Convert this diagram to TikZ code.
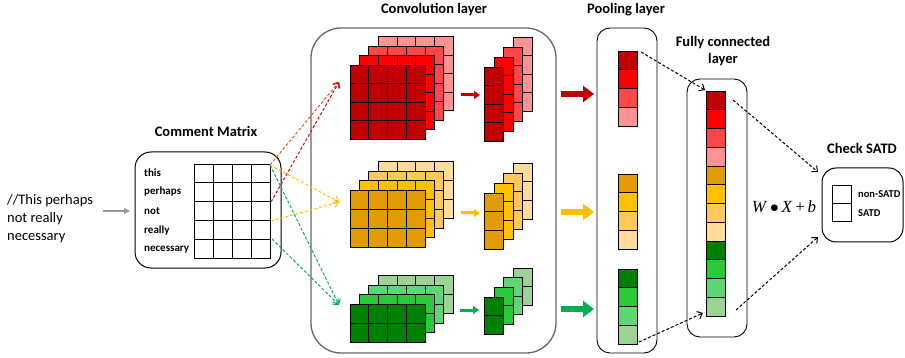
\documentclass[tikz,border=0pt]{standalone}
\usepackage{fontspec}
\setmainfont{Carlito}
\newfontfamily\tmsfont{Liberation Serif}
\usetikzlibrary{arrows.meta}
\definecolor{redA}{HTML}{C00000}
\definecolor{redB}{HTML}{FF0000}
\definecolor{redC}{HTML}{FF4747}
\definecolor{redD}{HTML}{FF9393}
\definecolor{orgA}{HTML}{E29A05}
\definecolor{orgB}{HTML}{FFC000}
\definecolor{orgC}{HTML}{FFC85C}
\definecolor{orgD}{HTML}{FFDC9C}
\definecolor{grnA}{HTML}{008000}
\definecolor{grnB}{HTML}{29C937}
\definecolor{grnC}{HTML}{5DD673}
\definecolor{grnD}{HTML}{9CD394}
\definecolor{arrGreen}{HTML}{00B050}
\definecolor{lineRed}{HTML}{E00000}
\definecolor{lineOrgRed}{HTML}{E0561E}
\newcommand{\cellgrid}[7]{%
  \foreach \ci in {1,...,#3}{\foreach \cj in {1,...,#4}{%
    \draw[cellline,fill=#7] ({#1+(\ci-1)*#5},{#2+(\cj-1)*#6}) rectangle ++(#5,#6);}}}
\begin{document}
\begin{tikzpicture}[x=1pt,y=-1pt,
  cellline/.style={draw=black,line width=0.8pt},
  layerbox/.style={draw=black,line width=0.9pt,rounded corners=13pt},
  title/.style={font=\bfseries\fontsize{14.5}{17}\selectfont,inner sep=0pt},
  word/.style={font=\bfseries\fontsize{11}{13}\selectfont,anchor=west,inner sep=0pt},
  dasharrow/.style={dash pattern=on 3pt off 2pt,line width=1pt,-{Straight Barb[length=4.5pt,width=8pt]}},
  smallarrow/.style={line width=3pt,-{Triangle[length=6pt,width=8pt]}},
  bigarrow/.style={line width=6.5pt,-{Triangle[length=11pt,width=16pt]}}]
\useasboundingbox (0,0) rectangle (905,358);

% ---------- left text ----------
\node[anchor=west,align=left,inner sep=0pt,font=\fontsize{14.5}{18}\selectfont] (src) at (7,219)
  {//This perhaps\\not really\\necessary};
\coordinate (srcA) at (103,211);
\coordinate (srcB) at (130,211);
\draw[line width=2pt,gray!80,-{Triangle[length=6pt,width=6pt]}] (srcA) -- (srcB);

% ---------- comment matrix ----------
\node[title] (cmtitle) at (206,131) {Comment Matrix};
\draw[line width=1pt,rounded corners=16pt] (135,152) rectangle (281,268);
\cellgrid{194}{164}{4}{5}{19}{18.8}{white}
\node[word] (w1) at (144,173) {this};
\node[word] (w2) at (144,192) {perhaps};
\node[word] (w3) at (144,211) {not};
\node[word] (w4) at (144,231) {really};
\node[word] (w5) at (144,250) {necessary};
\coordinate (cmA) at (270,165);
\coordinate (cmB) at (271,202);
\coordinate (cmC) at (271,221);
\coordinate (cmD) at (272,239);

% ---------- convolution layer ----------
\node[title] (convtitle) at (434,10) {Convolution layer};
\draw[line width=1.3pt,draw=black!60,rounded corners=30pt] (311,28) rectangle (556,353);

% red stack
\cellgrid{378.2}{36.8}{4}{4}{18.75}{18.5}{redD}
\cellgrid{368.8}{46.2}{4}{4}{18.75}{18.5}{redC}
\cellgrid{359.4}{55.6}{4}{4}{18.75}{18.5}{redB}
\cellgrid{350}{65}{4}{4}{18.75}{18.5}{redA}
\cellgrid{513}{37}{1}{4}{19}{18.5}{redD}
\cellgrid{503.6}{47}{1}{4}{19}{18.5}{redC}
\cellgrid{494}{57}{1}{4}{19}{18.5}{redB}
\cellgrid{484}{67}{1}{4}{19}{18.5}{redA}
% orange stack
\cellgrid{378.2}{161.8}{4}{3}{18.75}{19}{orgD}
\cellgrid{368.8}{171.2}{4}{3}{18.75}{19}{orgC}
\cellgrid{359.4}{180.6}{4}{3}{18.75}{19}{orgB}
\cellgrid{350}{190}{4}{3}{18.75}{19}{orgA}
\cellgrid{513}{163}{1}{3}{19}{18.7}{orgD}
\cellgrid{503.6}{173}{1}{3}{19}{18.7}{orgC}
\cellgrid{494}{183}{1}{3}{19}{18.7}{orgB}
\cellgrid{484}{193}{1}{3}{19}{18.7}{orgA}
% green stack
\cellgrid{378.2}{275.8}{4}{2}{18.75}{19}{grnD}
\cellgrid{368.8}{285.2}{4}{2}{18.75}{19}{grnC}
\cellgrid{359.4}{294.6}{4}{2}{18.75}{19}{grnB}
\cellgrid{350}{304}{4}{2}{18.75}{19}{grnA}
\cellgrid{513}{268}{1}{2}{19}{18.5}{grnD}
\cellgrid{503.6}{277.5}{1}{2}{19}{18.5}{grnC}
\cellgrid{494}{287}{1}{2}{19}{18.5}{grnB}
\cellgrid{484}{297}{1}{2}{19}{18.5}{grnA}

\coordinate (redIn) at (339,82);
\coordinate (orgIn) at (339,202);
\coordinate (grnIn) at (339,305);

% small arrows inside conv
\coordinate (rsA) at (461,95);  \coordinate (rsB) at (480,95);
\coordinate (osA) at (461,213); \coordinate (osB) at (480,213);
\coordinate (gsA) at (460,310); \coordinate (gsB) at (479,310);
\draw[smallarrow,redA] (rsA) -- (rsB);
\draw[smallarrow,orgB] (osA) -- (osB);
\draw[smallarrow,arrGreen] (gsA) -- (gsB);

% big arrows to pooling
\coordinate (rbA) at (561,94);  \coordinate (rbB) at (594,94);
\coordinate (obA) at (561,212); \coordinate (obB) at (594,212);
\coordinate (gbA) at (561,309); \coordinate (gbB) at (594,309);
\draw[bigarrow,redA] (rbA) -- (rbB);
\draw[bigarrow,orgB] (obA) -- (obB);
\draw[bigarrow,arrGreen] (gbA) -- (gbB);

% ---------- pooling layer ----------
\node[title] (pooltitle) at (626,10) {Pooling layer};
\draw[layerbox] (597,28) rectangle (657,353);
\draw[cellline,fill=redA] (618,51) rectangle ++(19,18.75);
\draw[cellline,fill=redB] (618,69.75) rectangle ++(19,18.75);
\draw[cellline,fill=redC] (618,88.5) rectangle ++(19,18.75);
\draw[cellline,fill=redD] (618,107.25) rectangle ++(19,18.75);
\draw[cellline,fill=orgA] (618,174) rectangle ++(19,18.75);
\draw[cellline,fill=orgB] (618,192.75) rectangle ++(19,18.75);
\draw[cellline,fill=orgC] (618,211.5) rectangle ++(19,18.75);
\draw[cellline,fill=orgD] (618,230.25) rectangle ++(19,18.75);
\draw[cellline,fill=grnA] (618,269) rectangle ++(19,18.75);
\draw[cellline,fill=grnB] (618,287.75) rectangle ++(19,18.75);
\draw[cellline,fill=grnC] (618,306.5) rectangle ++(19,18.75);
\draw[cellline,fill=grnD] (618,325.25) rectangle ++(19,18.75);
\coordinate (poolTop) at (641,52);
\coordinate (poolBot) at (639,342);

% ---------- fully connected ----------
\node[title,align=center] (fctitle) at (723,51) {Fully connected\\layer};
\draw[layerbox] (687,79) rectangle (747,337);
\foreach \c [count=\k from 0] in {redA,redB,redC,redD,orgA,orgB,orgC,orgD,grnA,grnB,grnC,grnD}{
  \draw[cellline,fill=\c] (706,{91+\k*18.75}) rectangle ++(19,18.75);}
\coordinate (fcInTop) at (705,90);
\coordinate (fcInBot) at (703,313);
\coordinate (fcOutTop) at (733,100);
\coordinate (fcOutBot) at (736,310);

% ---------- W X + b ----------
\node[inner sep=0pt,font=\tmsfont\fontsize{17}{19}\selectfont] (wxb) at (784,207)
  {\textit{W}\,$\bullet$\,\textit{X}\,+\,\textit{b}};

% ---------- check SATD ----------
\node[title] (chktitle) at (862,148) {Check SATD};
\draw[line width=1pt,rounded corners=14pt] (822,168) rectangle (903,242);
\draw[line width=0.9pt] (832,185) rectangle (851,203);
\draw[line width=0.9pt] (832,203) rectangle (851,221);
\node[word,font=\bfseries\fontsize{10.5}{12}\selectfont] (l1) at (858,194) {non-SATD};
\node[word,font=\bfseries\fontsize{10.5}{12}\selectfont] (l2) at (858,213) {SATD};
\coordinate (chkTop) at (818,172);
\coordinate (chkBot) at (818,237);

% ---------- dashed connectors ----------
\draw[dasharrow,lineOrgRed] (cmA) -- (redIn);
\draw[dasharrow,lineRed] (cmB) -- (redIn);
\draw[dasharrow,orgB] (cmA) -- (orgIn);
\draw[dasharrow,orgB] (cmC) -- (orgIn);
\draw[dasharrow,arrGreen] (cmA) -- (grnIn);
\draw[dasharrow,arrGreen] (cmD) -- (grnIn);
\draw[dasharrow,black] (poolTop) -- (fcInTop);
\draw[dasharrow,black] (poolBot) -- (fcInBot);
\draw[dasharrow,black] (fcOutTop) -- (chkTop);
\draw[dasharrow,black] (fcOutBot) -- (chkBot);
\end{tikzpicture}
\end{document}
